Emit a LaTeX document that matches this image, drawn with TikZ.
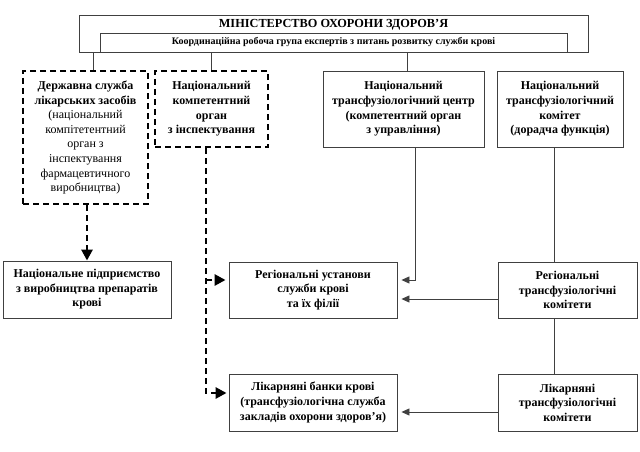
\documentclass[tikz,border=0pt]{standalone}
\usepackage{fontspec}
\setmainfont{Liberation Serif}
\usetikzlibrary{arrows.meta}
\tikzset{
  frame/.style={draw=black!75, line width=0.9pt, align=center, inner sep=0pt, font=\bfseries\fontsize{12}{14.6}\selectfont},
  solidbox/.style={frame, fill=white},
  dashbox/.style={frame, draw=black, line width=2.8pt, dash pattern=on 6pt off 4pt},
  link/.style={draw=black!75, line width=0.9pt},
  linkarrow/.style={link, -{Triangle[length=8pt,width=7pt]}, shorten >=4pt},
  dasharrow/.style={draw=black, line width=2.8pt, dash pattern=on 6pt off 4pt, -{Triangle[length=11pt,width=11pt]}}
}
\begin{document}
\begin{tikzpicture}[x=1pt,y=-1pt]
\useasboundingbox (0,0) rectangle (640,452);
% ministry
\node[solidbox, minimum width=509pt, minimum height=37pt] (min) at (333.5,33.5) {};
\node[font=\bfseries\fontsize{12.3}{14}\selectfont, inner sep=0pt] (mintitle) at (333.5,24.5) {МІНІСТЕРСТВО ОХОРОНИ ЗДОРОВ’Я};
\node[solidbox, minimum width=467pt, minimum height=19pt, font=\bfseries\fontsize{10}{11}\selectfont] (coord) at (333.5,42.5) {Координаційна робоча група експертів з питань розвитку служби крові};
% second row
\node[dashbox, minimum width=125pt, minimum height=133pt] (b1) at (85.5,137.5) {Державна служба\\лікарських засобів\\\mdseries(національний\\\mdseries компітетентний\\\mdseries орган з\\\mdseries інспектування\\\mdseries фармацевтичного\\\mdseries виробництва)};
\node[dashbox, minimum width=113pt, minimum height=76pt] (b2) at (211.5,109) {Національний\\компетентний\\орган\\з інспектування};
\node[solidbox, minimum width=161pt, minimum height=76pt] (b3) at (403.5,109) {Національний\\трансфузіологічний центр\\(компетентний орган\\з управління)};
\node[solidbox, minimum width=126pt, minimum height=76pt] (b4) at (560,109) {Національний\\трансфузіологічний\\комітет\\(дорадча функція)};
% third row
\node[solidbox, minimum width=168pt, minimum height=57pt] (ent) at (87,289.5) {Національне підприємство\\з виробництва препаратів\\крові};
\node[solidbox, minimum width=168pt, minimum height=56pt] (reginst) at (313,290) {Регіональні установи\\служби крові\\та їх філії};
\node[solidbox, minimum width=139pt, minimum height=56pt] (regcom) at (567.5,290) {Регіональні\\трансфузіологічні\\комітети};
% fourth row
\node[solidbox, minimum width=168pt, minimum height=57pt] (banks) at (313,402.5) {Лікарняні банки крові\\(трансфузіологічна служба\\закладів охорони здоров’я)};
\node[solidbox, minimum width=139pt, minimum height=57pt] (hospcom) at (567.5,402.5) {Лікарняні\\трансфузіологічні\\комітети};
% connectors from ministry
\draw[link] ([xshift=7.5pt]b1.north) -- ([xshift=7.5pt]b1.north |- min.south);
\draw[link] (b2.north) -- (b2.north |- min.south);
\draw[link] ([xshift=3.5pt]b3.north) -- ([xshift=3.5pt]b3.north |- min.south);
% solid connectors
\coordinate (r3) at ([yshift=10pt]reginst.east);
\draw[linkarrow] ([xshift=11.5pt]b3.south) |- (r3);
\draw[link] ([xshift=-6pt]b4.south) -- ([xshift=-6pt]b4.south |- regcom.north);
\coordinate (rc) at ([yshift=-9pt]regcom.west);
\draw[linkarrow] (rc) -- (rc -| reginst.east);
\draw[link] ([xshift=-13.5pt]regcom.south) -- ([xshift=-13.5pt]hospcom.north);
\coordinate (hc) at ([yshift=-9.5pt]hospcom.west);
\draw[linkarrow] (hc) -- (hc -| banks.east);
% dashed connectors
\draw[dasharrow] ([xshift=1.5pt]b1.south) -- ([xshift=1.5pt]b1.south |- ent.north);
\coordinate (d2) at ([xshift=-5.5pt]b2.south);
\coordinate (bw) at ([yshift=9.5pt]banks.west);
\draw[dasharrow, shorten >=2pt] (d2) |- (bw);
\coordinate (rw) at ([yshift=10pt]reginst.west);
\draw[dasharrow, shorten >=3pt] (d2 |- rw) -- (rw);
\end{tikzpicture}
\end{document}
